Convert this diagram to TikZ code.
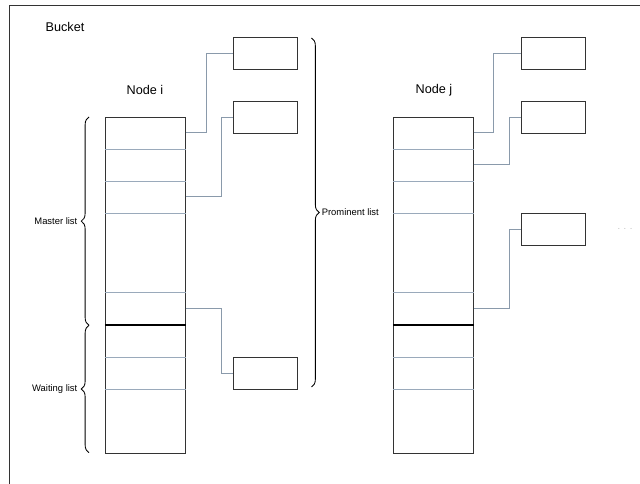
\documentclass[tikz,border=0pt]{standalone}
\usepackage{fontspec}
\setmainfont{Liberation Sans}
\usetikzlibrary{decorations.pathreplacing}
\definecolor{frameline}{HTML}{333333}
\definecolor{cellline}{HTML}{9AAABB}
\definecolor{linkline}{HTML}{8A9AAB}
\tikzset{
  listcol/.style  = {draw=frameline, line width=0.6pt, inner sep=0pt,
                     minimum width=2cm, minimum height=8.4cm},
  entrybox/.style = {draw=frameline, line width=0.6pt, inner sep=0pt,
                     minimum width=1.61cm, minimum height=0.79cm},
  cellsep/.style  = {draw=cellline, line width=0.6pt},
  splitsep/.style = {draw=black, line width=1.5pt},
  link/.style     = {draw=linkline, line width=0.6pt},
  ttl/.style      = {font=\fontsize{9}{10}\selectfont, inner sep=1pt},
  blab/.style     = {font=\fontsize{6.7}{8}\selectfont, inner sep=0pt},
  lbrace/.style   = {decorate, decoration={brace, amplitude=5.5pt},
                     line width=0.6pt},
}

\begin{document}
\begin{tikzpicture}[x=0.025cm, y=-0.025cm]
    \useasboundingbox (0,0) rectangle (640,484);
    \draw[frameline, line width=0.6pt] (9.5,5) rectangle (660,520);

    \node[ttl] (bucket) at (65,27) {Bucket};
    \node[ttl] (nodei) at (145,90) {Node i};
    \node[ttl] (nodej) at (434,90) {Node j};

    % the two lists
    \node[listcol] (coli) at (145.3,285) {};
    \node[listcol] (colj) at (433.3,285) {};
    \foreach \c in {coli, colj} {
        \foreach \y in {149.3, 181.7, 213.3, 292.3, 357.3, 389.3}
            \draw[cellsep] (\c.west |- 0,\y) -- (\c.east |- 0,\y);
        \draw[splitsep] (\c.west |- 0,325.3) -- (\c.east |- 0,325.3);
    }

    % entries of node i
    \node[entrybox] (bi1) at (265.5,53.5) {};
    \node[entrybox] (bi2) at (265.5,117.2) {};
    \node[entrybox] (bi3) at (265.5,373.3) {};
    \draw[link] (coli.north east) ++(0,16.3) -| (206,0 |- bi1.west) -- (bi1.west);
    \draw[link] (coli.north east) ++(0,79.7) -| (221,0 |- bi2.west) -- (bi2.west);
    \draw[link] (coli.north east) ++(0,192.3) -| (221,0 |- bi3.west) -- (bi3.west);

    % entries of node j
    \node[entrybox] (bj1) at (553.7,53.5) {};
    \node[entrybox] (bj2) at (553.7,117.2) {};
    \node[entrybox] (bj3) at (553.7,229.2) {};
    \draw[link] (colj.north east) ++(0,16.3) -| (493.3,0 |- bj1.west) -- (bj1.west);
    \draw[link] (colj.north east) ++(0,48) -| (509.3,0 |- bj2.west) -- (bj2.west);
    \draw[link] (colj.north east) ++(0,192.3) -| (509.3,0 |- bj3.west) -- (bj3.west);

    \node[blab, text=black!25] (more) at (625,229) {. . .};

    % braces
    \draw[lbrace] (89,325.3) -- node[blab, left=8pt] {Master list} (89,117);
    \draw[lbrace] (89,452.7) -- node[blab, left=8pt] {Waiting list} (89,325.3);
    \draw[lbrace] (311.5,38) -- node[blab, right=7pt] {Prominent list} (311.5,387);
\end{tikzpicture}
\end{document}
